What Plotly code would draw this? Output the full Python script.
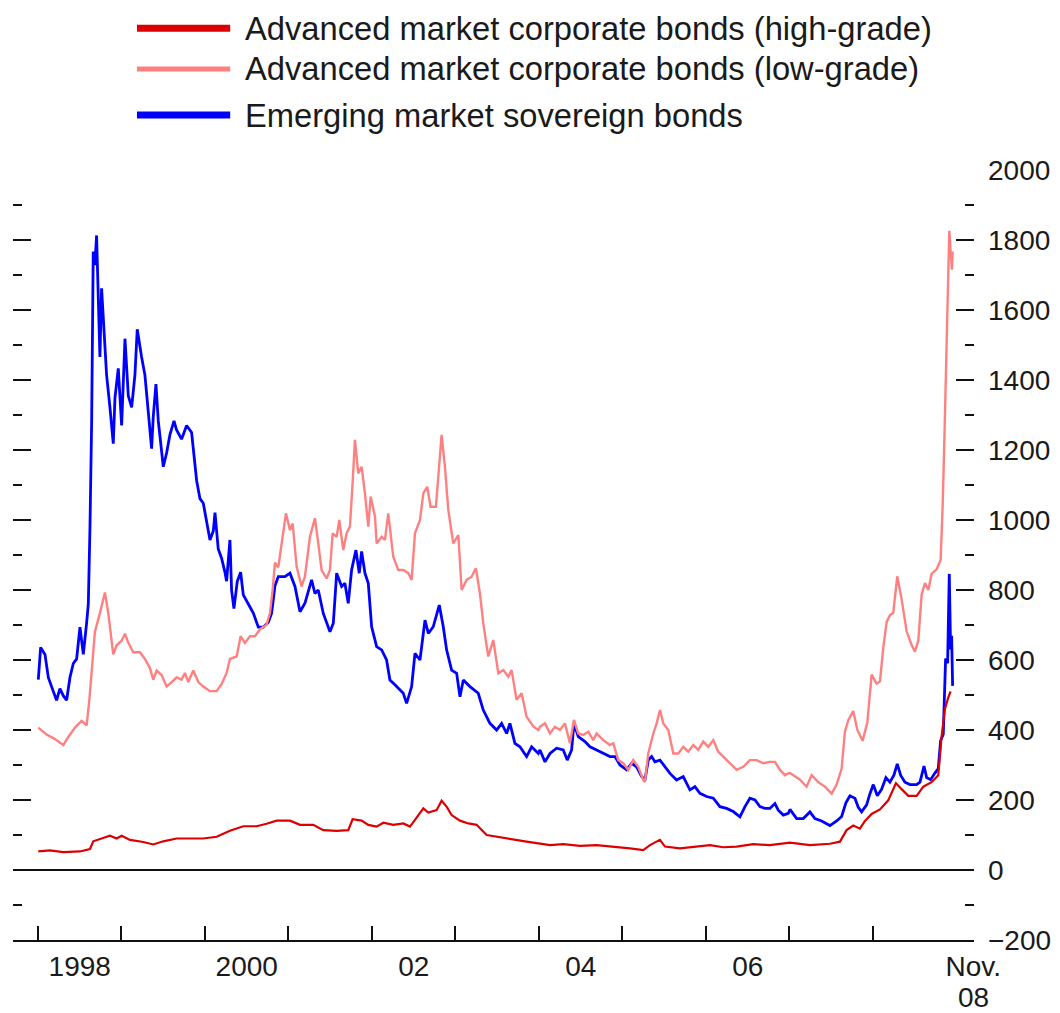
import plotly.graph_objects as go

# ---------------- data (basis points) ----------------
names = ["Advanced market corporate bonds (high-grade)",
         "Advanced market corporate bonds (low-grade)",
         "Emerging market sovereign bonds"]
colors = ["#dd0000", "#ff8080", "#0000ff"]

# Emerging market sovereign bonds (blue)
em_t = [1998.004, 1998.032, 1998.084, 1998.124, 1998.163, 1998.223, 1998.263, 1998.303, 1998.343, 1998.383,
        1998.423, 1998.463, 1998.503, 1998.543, 1998.583, 1998.603, 1998.623, 1998.643, 1998.662, 1998.682,
        1998.702, 1998.722, 1998.742, 1998.762, 1998.782, 1998.822, 1998.862, 1998.902, 1998.922, 1998.962,
        1999.002, 1999.042, 1999.082, 1999.122, 1999.161, 1999.189, 1999.241, 1999.281, 1999.321, 1999.361,
        1999.381, 1999.413, 1999.441, 1999.501, 1999.541, 1999.581, 1999.629, 1999.660, 1999.720, 1999.780,
        1999.840, 1999.900, 1999.940, 1999.980, 2000.020, 2000.060, 2000.100, 2000.120, 2000.159, 2000.199,
        2000.239, 2000.259, 2000.299, 2000.319, 2000.347, 2000.387, 2000.427, 2000.459, 2000.519, 2000.579,
        2000.639, 2000.698, 2000.758, 2000.798, 2000.838, 2000.878, 2000.958, 2001.018, 2001.078, 2001.138,
        2001.197, 2001.277, 2001.317, 2001.357, 2001.417, 2001.497, 2001.537, 2001.577, 2001.637, 2001.676,
        2001.716, 2001.756, 2001.808, 2001.848, 2001.876, 2001.916, 2001.956, 2001.996, 2002.056, 2002.116,
        2002.175, 2002.215, 2002.275, 2002.335, 2002.375, 2002.415, 2002.475, 2002.515, 2002.575, 2002.635,
        2002.675, 2002.734, 2002.806, 2002.854, 2002.894, 2002.954, 2003.014, 2003.054, 2003.094, 2003.174,
        2003.273, 2003.333, 2003.413, 2003.493, 2003.553, 2003.613, 2003.652, 2003.712, 2003.772, 2003.852,
        2003.912, 2003.992, 2004.012, 2004.072, 2004.132, 2004.211, 2004.291, 2004.339, 2004.391, 2004.419,
        2004.471, 2004.551, 2004.611, 2004.690, 2004.770, 2004.850, 2004.910, 2004.970, 2005.050, 2005.110,
        2005.169, 2005.229, 2005.269, 2005.309, 2005.349, 2005.389, 2005.449, 2005.509, 2005.569, 2005.648,
        2005.728, 2005.808, 2005.868, 2005.928, 2006.008, 2006.088, 2006.167, 2006.247, 2006.327, 2006.407,
        2006.467, 2006.527, 2006.587, 2006.646, 2006.706, 2006.766, 2006.826, 2006.866, 2006.926, 2006.986,
        2007.006, 2007.086, 2007.165, 2007.245, 2007.305, 2007.385, 2007.485, 2007.565, 2007.625, 2007.676,
        2007.724, 2007.784, 2007.824, 2007.864, 2007.924, 2007.964, 2008.004, 2008.052, 2008.104, 2008.155,
        2008.203, 2008.251, 2008.291, 2008.331, 2008.383, 2008.443, 2008.523, 2008.563, 2008.611, 2008.643,
        2008.690, 2008.742, 2008.782, 2008.810, 2008.842, 2008.870, 2008.894, 2008.914, 2008.930, 2008.942,
        2008.954]
em_v = [544, 636, 616, 550, 524, 485, 518, 498, 485, 550,
        590, 603, 694, 616, 707, 760, 982, 1283, 1767, 1728,
        1813, 1636, 1466, 1662, 1571, 1414, 1322, 1218, 1348, 1433,
        1270, 1518, 1355, 1322, 1414, 1545, 1466, 1414, 1309, 1204,
        1296, 1388, 1283, 1152, 1192, 1244, 1283, 1257, 1231, 1270,
        1250, 1113, 1061, 1048, 995, 943, 969, 1021, 917, 891,
        851, 825, 943, 799, 747, 825, 851, 786, 760, 734,
        694, 694, 707, 734, 812, 838, 838, 848, 810, 738,
        762, 829, 790, 800, 733, 681, 705, 848, 810, 819,
        762, 857, 914, 848, 910, 848, 819, 695, 638, 629,
        600, 543, 529, 514, 505, 476, 524, 619, 600, 714,
        676, 695, 757, 695, 629, 571, 562, 495, 543, 524,
        505, 457, 419, 400, 419, 390, 419, 362, 352, 324,
        352, 333, 343, 309, 333, 348, 343, 314, 343, 419,
        381, 367, 352, 343, 333, 324, 324, 300, 286, 305,
        295, 267, 257, 314, 324, 309, 314, 295, 276, 257,
        267, 229, 238, 219, 210, 205, 181, 176, 167, 152,
        181, 205, 200, 181, 176, 176, 190, 171, 157, 162,
        173, 147, 147, 166, 147, 140, 127, 140, 153, 192,
        212, 205, 179, 166, 186, 218, 244, 212, 231, 264,
        251, 271, 303, 271, 251, 244, 244, 251, 297, 264,
        258, 277, 290, 369, 388, 604, 591, 846, 630, 669,
        526]

# Advanced market corporate bonds, low grade (pink)
lg_t = [1998.004, 1998.104, 1998.203, 1998.303, 1998.363, 1998.443, 1998.523, 1998.583, 1998.615, 1998.643,
        1998.682, 1998.742, 1998.802, 1998.842, 1998.902, 1998.942, 1999.002, 1999.042, 1999.082, 1999.142,
        1999.221, 1999.281, 1999.341, 1999.381, 1999.421, 1999.481, 1999.541, 1999.601, 1999.660, 1999.720,
        1999.760, 1999.800, 1999.860, 1999.920, 1999.980, 2000.060, 2000.140, 2000.199, 2000.259, 2000.299,
        2000.379, 2000.427, 2000.479, 2000.539, 2000.599, 2000.659, 2000.738, 2000.778, 2000.810, 2000.838,
        2000.878, 2000.970, 2001.018, 2001.050, 2001.098, 2001.157, 2001.197, 2001.257, 2001.317, 2001.357,
        2001.397, 2001.457, 2001.497, 2001.529, 2001.577, 2001.609, 2001.656, 2001.696, 2001.736, 2001.768,
        2001.796, 2001.836, 2001.876, 2001.916, 2001.956, 2001.984, 2002.036, 2002.056, 2002.116, 2002.155,
        2002.195, 2002.255, 2002.315, 2002.375, 2002.435, 2002.475, 2002.515, 2002.575, 2002.615, 2002.662,
        2002.702, 2002.766, 2002.794, 2002.834, 2002.874, 2002.914, 2002.974, 2003.034, 2003.074, 2003.134,
        2003.193, 2003.245, 2003.293, 2003.333, 2003.393, 2003.453, 2003.513, 2003.573, 2003.633, 2003.672,
        2003.732, 2003.792, 2003.852, 2003.932, 2003.992, 2004.012, 2004.072, 2004.132, 2004.191, 2004.251,
        2004.311, 2004.371, 2004.419, 2004.471, 2004.531, 2004.591, 2004.650, 2004.690, 2004.770, 2004.850,
        2004.890, 2004.950, 2005.010, 2005.070, 2005.129, 2005.189, 2005.249, 2005.269, 2005.309, 2005.369,
        2005.409, 2005.449, 2005.489, 2005.549, 2005.609, 2005.668, 2005.728, 2005.788, 2005.848, 2005.908,
        2005.968, 2006.028, 2006.088, 2006.147, 2006.207, 2006.287, 2006.367, 2006.447, 2006.527, 2006.607,
        2006.686, 2006.766, 2006.826, 2006.886, 2006.946, 2006.986, 2007.006, 2007.126, 2007.205, 2007.265,
        2007.345, 2007.425, 2007.505, 2007.565, 2007.625, 2007.664, 2007.704, 2007.764, 2007.812, 2007.876,
        2007.932, 2007.984, 2008.044, 2008.084, 2008.124, 2008.164, 2008.203, 2008.243, 2008.291, 2008.343,
        2008.403, 2008.463, 2008.503, 2008.543, 2008.583, 2008.623, 2008.663, 2008.702, 2008.762, 2008.810,
        2008.834, 2008.854, 2008.874, 2008.894, 2008.914, 2008.930, 2008.946, 2008.954]
lg_v = [407, 387, 374, 357, 380, 407, 426, 413, 485, 577,
        681, 734, 793, 734, 616, 642, 655, 675, 649, 622,
        622, 603, 577, 544, 570, 557, 524, 537, 550, 544,
        563, 537, 570, 537, 524, 511, 511, 531, 563, 603,
        610, 668, 649, 668, 668, 688, 701, 734, 799, 878,
        865, 1019, 971, 990, 867, 810, 838, 952, 1005, 933,
        857, 833, 857, 962, 952, 1000, 914, 962, 981, 1105,
        1229, 1133, 1152, 1076, 981, 1067, 1010, 933, 952, 943,
        1019, 895, 857, 857, 848, 829, 962, 1000, 1076, 1095,
        1038, 1038, 1133, 1243, 1152, 1029, 933, 957, 800, 829,
        838, 862, 790, 705, 610, 657, 562, 571, 552, 571,
        486, 505, 438, 410, 400, 409, 419, 390, 409, 400,
        419, 362, 429, 390, 386, 395, 371, 390, 371, 357,
        362, 314, 305, 286, 314, 295, 257, 252, 333, 390,
        419, 457, 419, 400, 333, 333, 352, 338, 357, 343,
        367, 352, 371, 338, 324, 305, 286, 295, 314, 314,
        305, 309, 309, 286, 271, 276, 277, 258, 238, 271,
        251, 238, 218, 244, 290, 395, 428, 454, 401, 369,
        421, 558, 532, 539, 637, 709, 728, 735, 839, 774,
        682, 643, 624, 656, 787, 820, 800, 846, 859, 885,
        1035, 1218, 1440, 1610, 1826, 1767, 1715, 1767]

# Advanced market corporate bonds, high grade (red)
hg_t = [1998.004, 1998.144, 1998.303, 1998.503, 1998.623, 1998.662, 1998.762, 1998.862, 1998.942, 1999.002,
        1999.102, 1999.261, 1999.381, 1999.501, 1999.660, 1999.820, 1999.980, 2000.140, 2000.299, 2000.459,
        2000.619, 2000.738, 2000.858, 2001.018, 2001.138, 2001.297, 2001.417, 2001.577, 2001.716, 2001.768,
        2001.876, 2001.956, 2002.056, 2002.136, 2002.255, 2002.375, 2002.455, 2002.515, 2002.615, 2002.675,
        2002.774, 2002.834, 2002.894, 2002.954, 2003.054, 2003.154, 2003.253, 2003.373, 2003.533, 2003.693,
        2003.852, 2003.992, 2004.132, 2004.291, 2004.491, 2004.690, 2004.890, 2005.090, 2005.249, 2005.329,
        2005.449, 2005.509, 2005.688, 2005.888, 2006.048, 2006.207, 2006.367, 2006.567, 2006.766, 2007.006,
        2007.245, 2007.485, 2007.605, 2007.684, 2007.764, 2007.844, 2007.904, 2007.984, 2008.084, 2008.183,
        2008.275, 2008.343, 2008.423, 2008.523, 2008.603, 2008.702, 2008.782, 2008.822, 2008.862, 2008.902,
        2008.930]
hg_v = [53, 56, 51, 53, 60, 82, 90, 98, 90, 98,
        86, 80, 73, 82, 90, 90, 90, 95, 112, 125,
        125, 132, 141, 141, 129, 129, 114, 112, 114, 145,
        141, 129, 124, 135, 129, 133, 124, 143, 176, 164,
        171, 198, 181, 157, 141, 133, 129, 100, 93, 88,
        81, 76, 71, 74, 69, 71, 67, 62, 57, 71,
        86, 67, 62, 67, 71, 65, 67, 74, 71, 78,
        71, 75, 81, 114, 127, 118, 140, 160, 173, 199,
        248, 231, 212, 212, 238, 251, 271, 382, 460, 493,
        510]

year_ticks = [1998, 1999, 2000, 2001, 2002, 2003, 2004, 2005, 2006, 2007, 2008]
label_pos = [1998.5, 2000.5, 2002.5, 2004.5, 2006.5, 2009.2]
label_text = ["1998", "2000", "02", "04", "06", "Nov."]
end_year_label = "08"          # second line of the "Nov. 08" label
y_major = [-200, 0, 200, 400, 600, 800, 1000, 1200, 1400, 1600, 1800, 2000]

FONT = "Arial, 'Liberation Sans', sans-serif"
TXT = "#1a1a1a"

fig = go.Figure()
# draw order: blue, pink, then red on top
fig.add_trace(go.Scatter(x=em_t, y=em_v, mode="lines", name=names[2],
                         line=dict(color=colors[2], width=2.8), showlegend=False))
fig.add_trace(go.Scatter(x=lg_t, y=lg_v, mode="lines", name=names[1],
                         line=dict(color=colors[1], width=2.4), showlegend=False))
fig.add_trace(go.Scatter(x=hg_t, y=hg_v, mode="lines", name=names[0],
                         line=dict(color=colors[0], width=2.2), showlegend=False,
                         yaxis="y2"))

yrange = [-200, 2000]
fig.update_layout(
    width=1052, height=1005,
    margin=dict(l=5, r=86, t=162, b=73),
    paper_bgcolor="white", plot_bgcolor="white",
    font=dict(family=FONT, size=28, color=TXT),
    xaxis=dict(range=[1997.701, 2009.21], showgrid=False, zeroline=False,
               automargin=False,
               showline=True, linecolor="#111", linewidth=2,
               tickmode="array", tickvals=label_pos, ticktext=label_text,
               ticks="", tickfont=dict(size=28, color=TXT),
               minor=dict(tickmode="array", tickvals=year_ticks, ticks="inside",
                          ticklen=14, tickwidth=2, tickcolor="#111", showgrid=False)),
    yaxis=dict(range=yrange, showgrid=False, showline=False, automargin=False,
               zeroline=True, zerolinecolor="#111", zerolinewidth=2,
               tickmode="array", tickvals=y_major, showticklabels=False,
               ticks="inside", ticklen=18, tickwidth=2, tickcolor="#111",
               minor=dict(dtick=100, tick0=0, ticks="inside", ticklen=9,
                          tickwidth=2, tickcolor="#111", showgrid=False)),
    yaxis2=dict(range=yrange, overlaying="y", side="right", anchor="x",
                automargin=False,
                showgrid=False, showline=False, zeroline=False,
                tickmode="array", tickvals=y_major,
                ticks="inside", ticklen=18, tickwidth=2, tickcolor="#111",
                ticklabelstandoff=13,
                tickfont=dict(size=28, color=TXT),
                minor=dict(dtick=100, tick0=0, ticks="inside", ticklen=9,
                           tickwidth=2, tickcolor="#111", showgrid=False)),
)

# second line of the last x label
fig.add_annotation(x=label_pos[-1], xref="x", y=-0.0753, yref="paper",
                   xanchor="center", yanchor="middle", showarrow=False,
                   text=end_year_label, font=dict(size=28, color=TXT, family=FONT))

# manual legend (long line samples, as in the original)
leg_y = [1.184, 1.1312, 1.0714]
leg_w = [7, 5, 7]
for i in range(3):
    fig.add_shape(type="line", xref="paper", yref="paper",
                  x0=0.129, x1=0.226, y0=leg_y[i], y1=leg_y[i],
                  line=dict(color=colors[i], width=leg_w[i]))
    fig.add_annotation(xref="paper", yref="paper", x=0.2404, y=leg_y[i],
                       xanchor="left", yanchor="middle", showarrow=False,
                       borderpad=0,
                       text=names[i], font=dict(size=32.7, color=TXT, family=FONT))

fig.write_html("out.html")
